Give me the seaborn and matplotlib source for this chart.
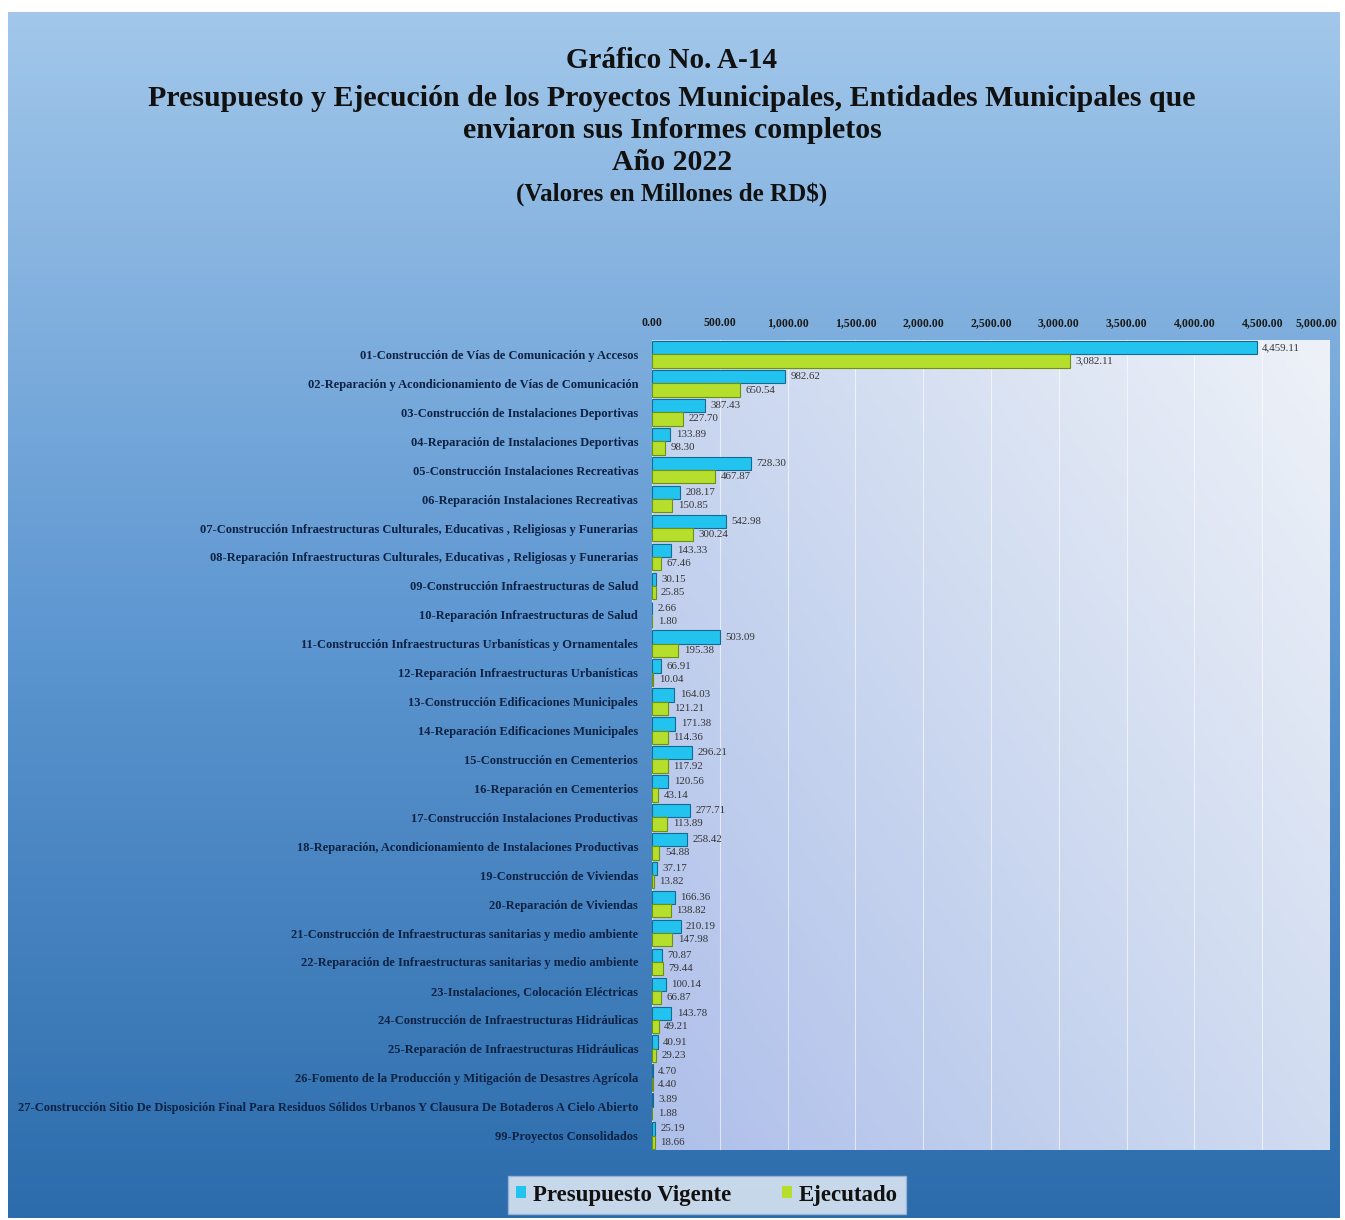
import numpy as np
import pandas as pd
import seaborn as sns
import matplotlib.pyplot as plt
from matplotlib.colors import LinearSegmentedColormap
from matplotlib.transforms import ScaledTranslation

# proyectos municipales, año 2022 (millones de RD$)
proyectos = [
    '01-Construcción de Vías de Comunicación y Accesos',
    '02-Reparación y Acondicionamiento de Vías de Comunicación',
    '03-Construcción de Instalaciones Deportivas',
    '04-Reparación de Instalaciones Deportivas',
    '05-Construcción Instalaciones Recreativas',
    '06-Reparación Instalaciones Recreativas',
    '07-Construcción Infraestructuras Culturales, Educativas , Religiosas y Funerarias',
    '08-Reparación Infraestructuras Culturales, Educativas , Religiosas y Funerarias',
    '09-Construcción Infraestructuras de Salud',
    '10-Reparación Infraestructuras de Salud',
    '11-Construcción Infraestructuras Urbanísticas y Ornamentales',
    '12-Reparación Infraestructuras Urbanísticas',
    '13-Construcción Edificaciones Municipales',
    '14-Reparación Edificaciones Municipales',
    '15-Construcción en Cementerios',
    '16-Reparación en Cementerios',
    '17-Construcción Instalaciones Productivas',
    '18-Reparación, Acondicionamiento de Instalaciones Productivas',
    '19-Construcción de Viviendas',
    '20-Reparación de Viviendas',
    '21-Construcción de Infraestructuras sanitarias y medio ambiente',
    '22-Reparación de Infraestructuras sanitarias y medio ambiente',
    '23-Instalaciones, Colocación Eléctricas',
    '24-Construcción de Infraestructuras Hidráulicas',
    '25-Reparación de Infraestructuras Hidráulicas',
    '26-Fomento de la Producción y Mitigación de Desastres Agrícola',
    '27-Construcción Sitio De Disposición Final Para Residuos Sólidos Urbanos Y Clausura De Botaderos A Cielo Abierto',
    '99-Proyectos Consolidados',
]
presupuesto = [4459.11, 982.62, 387.43, 133.89, 728.30, 208.17, 542.98, 143.33,
               30.15, 2.66, 503.09, 66.91, 164.03, 171.38, 296.21, 120.56,
               277.71, 258.42, 37.17, 166.36, 210.19, 70.87, 100.14, 143.78,
               40.91, 4.70, 3.89, 25.19]
ejecutado = [3082.11, 650.54, 227.70, 98.30, 467.87, 150.85, 300.24, 67.46,
             25.85, 1.80, 195.38, 10.04, 121.21, 114.36, 117.92, 43.14,
             113.89, 54.88, 13.82, 138.82, 147.98, 79.44, 66.87, 49.21,
             29.23, 4.40, 1.88, 18.66]
series = ['Presupuesto Vigente', 'Ejecutado']

df = pd.DataFrame({
    'Proyecto': proyectos * 2,
    'Valor': presupuesto + ejecutado,
    'Serie': [series[0]] * len(proyectos) + [series[1]] * len(proyectos),
})

serif = ['Liberation Serif', 'DejaVu Serif']
W, H = 1345, 1220
fig = plt.figure(figsize=(W / 100, H / 100), dpi=100, facecolor='white')

# fondo degradado azul
bg = fig.add_axes([8 / W, 2 / H, 1332 / W, 1206 / H])
bg_cmap = LinearSegmentedColormap.from_list('bg', ['#2c6cac', '#5f98d2', '#a2c7ea'])
bg.imshow(np.linspace(0, 1, 256).reshape(-1, 1), aspect='auto', cmap=bg_cmap,
          origin='lower', extent=[0, 1, 0, 1])
bg.set_axis_off()

ax = fig.add_axes([652 / W, 1 - 1150 / H, 678 / W, 810 / H])

# fondo del área de trazado
gx, gy = np.meshgrid(np.linspace(0, 1, 200), np.linspace(0, 1, 200))
area_cmap = LinearSegmentedColormap.from_list('area', ['#aebfea', '#cdd9f0', '#eef2f8'])
ax.imshow(0.55 * gx + 0.45 * gy, aspect='auto', cmap=area_cmap, origin='lower',
          extent=[0, 5000, 27.5, -0.5], zorder=0)

sns.barplot(data=df, y='Proyecto', x='Valor', hue='Serie', orient='h',
            palette=['#23c3f0', '#b5df2c'], width=0.92, saturation=1,
            linewidth=0.8, ax=ax, zorder=2)

for cont, ec in zip(ax.containers, ['#136a92', '#6d8f12']):
    for bar in cont:
        bar.set_edgecolor(ec)
    ax.bar_label(cont, fmt='{:,.2f}', padding=4, fontsize=7.8, color='#333333',
                 family=serif)

ax.set_xlim(0, 5000)
ax.set_ylim(27.5, -0.5)
ax.set_xticks(np.arange(0, 5001, 500))
ax.set_xticklabels([f'{v:,.2f}' for v in np.arange(0, 5001, 500)])
ax.xaxis.tick_top()
ax.tick_params(axis='x', length=0, pad=8, labelsize=8.5)
ax.tick_params(axis='y', length=0, pad=10, labelsize=9)
for lab in ax.get_xticklabels() + ax.get_yticklabels():
    lab.set_family(serif)
    lab.set_fontweight('bold')
for lab in ax.get_yticklabels():
    lab.set_color('#0e2244')
for lab in ax.get_xticklabels():
    lab.set_color('#1a1a1a')
# la última etiqueta queda en el borde: correrla un poco a la izquierda
last = ax.get_xticklabels()[-1]
last.set_transform(last.get_transform() + ScaledTranslation(-0.14, 0, fig.dpi_scale_trans))
ax.grid(axis='x', color='white', linewidth=0.8, alpha=0.6, zorder=1)
ax.set_axisbelow(True)
ax.set_xlabel('')
ax.set_ylabel('')
for s in ax.spines.values():
    s.set_visible(False)

handles, labels = ax.get_legend_handles_labels()
ax.get_legend().remove()
leg = fig.legend(handles, labels, loc='center', bbox_to_anchor=(707 / W, 1 - 1195 / H),
                 ncol=2, frameon=True, fancybox=False, handlelength=0.45, handleheight=0.45,
                 handletextpad=0.3, columnspacing=2.2, borderpad=0.35,
                 prop={'family': serif, 'weight': 'bold', 'size': 16.5})
leg.get_frame().set_facecolor('#eef3fa')
leg.get_frame().set_edgecolor('#9fb6d6')
for t in leg.get_texts():
    t.set_color('#111111')

titulo = [
    ('Gráfico No. A-14', 60, 21),
    ('Presupuesto y Ejecución de los Proyectos Municipales, Entidades Municipales que', 98, 21.5),
    ('enviaron sus Informes completos', 130, 21.5),
    ('Año 2022', 162, 21.5),
    ('(Valores en Millones de RD$)', 194, 18),
]
for txt, ypix, size in titulo:
    fig.text(672 / W, 1 - ypix / H, txt, ha='center', va='center', fontsize=size,
             fontweight='bold', family=serif, color='#111111')

fig.savefig('out.png', dpi=100, facecolor=fig.get_facecolor())
